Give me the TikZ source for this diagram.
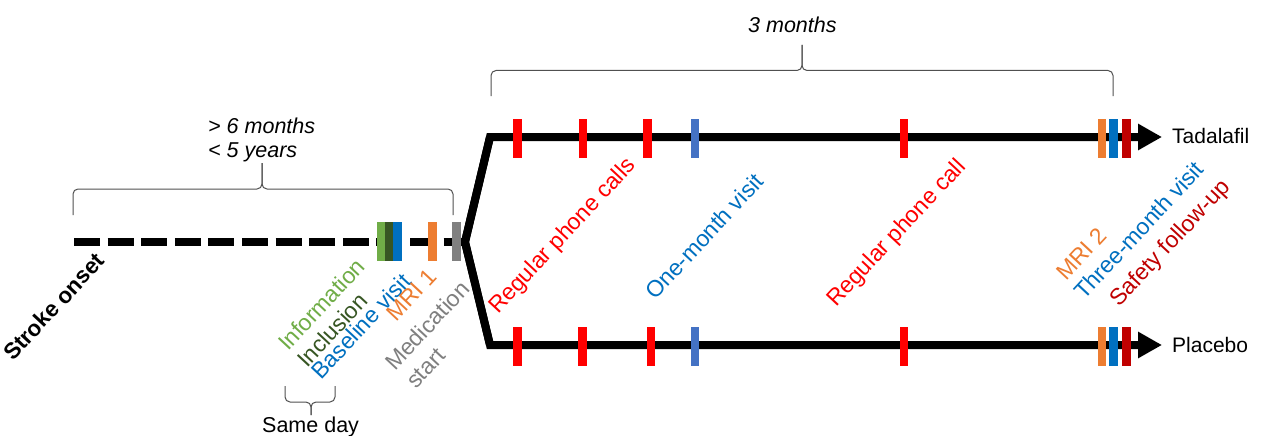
\documentclass[tikz,border=0pt]{standalone}
\usepackage{fontspec}
\setmainfont{Liberation Sans}
\usetikzlibrary{arrows.meta}

\definecolor{lgreen}{HTML}{70AD47}
\definecolor{dgreen}{HTML}{375623}
\definecolor{vblue}{HTML}{0070C0}
\definecolor{mblue}{HTML}{4472C4}
\definecolor{mriorange}{HTML}{ED7D31}
\definecolor{medgray}{HTML}{808080}
\definecolor{callred}{HTML}{FF0000}
\definecolor{safered}{HTML}{C00000}
\definecolor{bracegray}{HTML}{505050}

\newcommand\lblfont{\fontsize{23}{27}\selectfont}
\newcommand\plainfont{\fontsize{21.5}{25}\selectfont}

\begin{document}
\begin{tikzpicture}[x=1pt,y=-1pt,
  evbar/.style={fill=#1, draw=none, minimum width=8.5pt, minimum height=39pt, inner sep=0pt},
  vlabel/.style={font=\lblfont, text=#1, inner sep=0pt, rotate=47, anchor=base west},
  hlabel/.style={font=\plainfont, inner sep=0pt, anchor=base west},
  timeline/.style={line width=8pt, black},
  brace/.style={draw=bracegray, line width=1pt, rounded corners=5pt},
]
\fill[white] (0,0) rectangle (1261,436);
\useasboundingbox (0,0) rectangle (1261,436);

% key points of the timeline
\coordinate (onset) at (74,242);
\coordinate (fork) at (465,242);
\coordinate (topstart) at (490,137);
\coordinate (botstart) at (490,345);
\coordinate (topend) at (1162,137);
\coordinate (botend) at (1162,345);

% period before randomisation
\draw[timeline, dash pattern=on 26pt off 7.6pt] (onset) -- (fork);

% the two treatment arms
\draw[timeline, line join=round] (topstart) -- (fork) -- (botstart);
\draw[timeline, line join=miter, -{Triangle[length=24pt,width=25pt]}] (fork) -- (topstart) -- (topend);
\draw[timeline, line join=miter, -{Triangle[length=24pt,width=25pt]}] (fork) -- (botstart) -- (botend);

\node[hlabel, font=\fontsize{21}{25}\selectfont] (tadalafil) at (1172,143) {Tadalafil};
\node[hlabel, font=\fontsize{21}{25}\selectfont] (placebo) at (1172,352) {Placebo};

% events before the fork
\node[evbar=lgreen] (info) at (381.2,241.5) {};
\node[evbar=dgreen] (incl) at (389.4,241.5) {};
\node[evbar=vblue] (base) at (397.6,241.5) {};
\node[evbar=mriorange] (mri1) at (432.5,241.5) {};
\node[evbar=medgray] (med) at (456.5,241.5) {};

% events on the Tadalafil arm
\foreach \x/\c [count=\i] in {517.5/callred, 583/callred, 647.5/callred, 695/mblue, 904/callred, 1102/mriorange, 1113.3/vblue, 1126.5/safered}
  \node[evbar=\c] (t\i) at (\x,138) {};

% events on the Placebo arm
\foreach \x/\c [count=\i] in {517.5/callred, 582.5/callred, 651/callred, 695/mblue, 904/callred, 1102/mriorange, 1113.3/vblue, 1126.5/safered}
  \node[evbar=\c] (p\i) at (\x,346) {};

% rotated event labels
\node[vlabel=black, font=\fontsize{22.5}{27}\selectfont\bfseries] (onsetlbl) at (13,362) {Stroke onset};
\node[vlabel=lgreen] (infolbl) at (288,352) {Information};
\node[vlabel=dgreen] (incllbl) at (307,369) {Inclusion};
\node[vlabel=vblue] (baselbl) at (321,381) {Baseline visit};
\node[vlabel=mriorange] (mri1lbl) at (396,323) {MRI 1};
\node[vlabel=medgray] (medlbl) at (395,372) {Medication};
\node[vlabel=medgray] (startlbl) at (416,390) {start};
\node[vlabel=callred] (callslbl) at (498,315) {Regular phone calls};
\node[vlabel=vblue] (onemlbl) at (655,301) {One-month visit};
\node[vlabel=callred] (calllbl) at (836,308) {Regular phone call};
\node[vlabel=mriorange] (mri2lbl) at (1066,282) {MRI 2};
\node[vlabel=vblue] (threemlbl) at (1084,301) {Three-month visit};
\node[vlabel=safered] (safelbl) at (1119,308) {Safety follow-up};

% brace over the time since stroke
\coordinate (lbl) at (73,215);
\coordinate (lbr) at (453,215);
\coordinate (lbtip) at (262,163);
\draw[brace] (lbl) |- (262,189) -- (lbtip);
\draw[brace] (lbr) |- (262,189) -- (lbtip);
\node[hlabel, font=\plainfont\itshape] (gt6) at (208,133) {> 6 months};
\node[hlabel, font=\plainfont\itshape] (lt5) at (208,157) {< 5 years};

% brace over the treatment period
\coordinate (tbl) at (491,96);
\coordinate (tbr) at (1113,96);
\coordinate (tbtip) at (802,45);
\draw[brace] (tbl) |- (802,70.5) -- (tbtip);
\draw[brace] (tbr) |- (802,70.5) -- (tbtip);
\node[hlabel, font=\plainfont\itshape] (threem) at (748,33) {3 months};

% brace under the first visit
\coordinate (sbl) at (285,386);
\coordinate (sbr) at (335,386);
\coordinate (sbtip) at (311,415);
\draw[brace] (sbl) |- (311,402) -- (sbtip);
\draw[brace] (sbr) |- (311,402) -- (sbtip);
\node[hlabel] (sameday) at (262,432) {Same day};
\end{tikzpicture}
\end{document}
